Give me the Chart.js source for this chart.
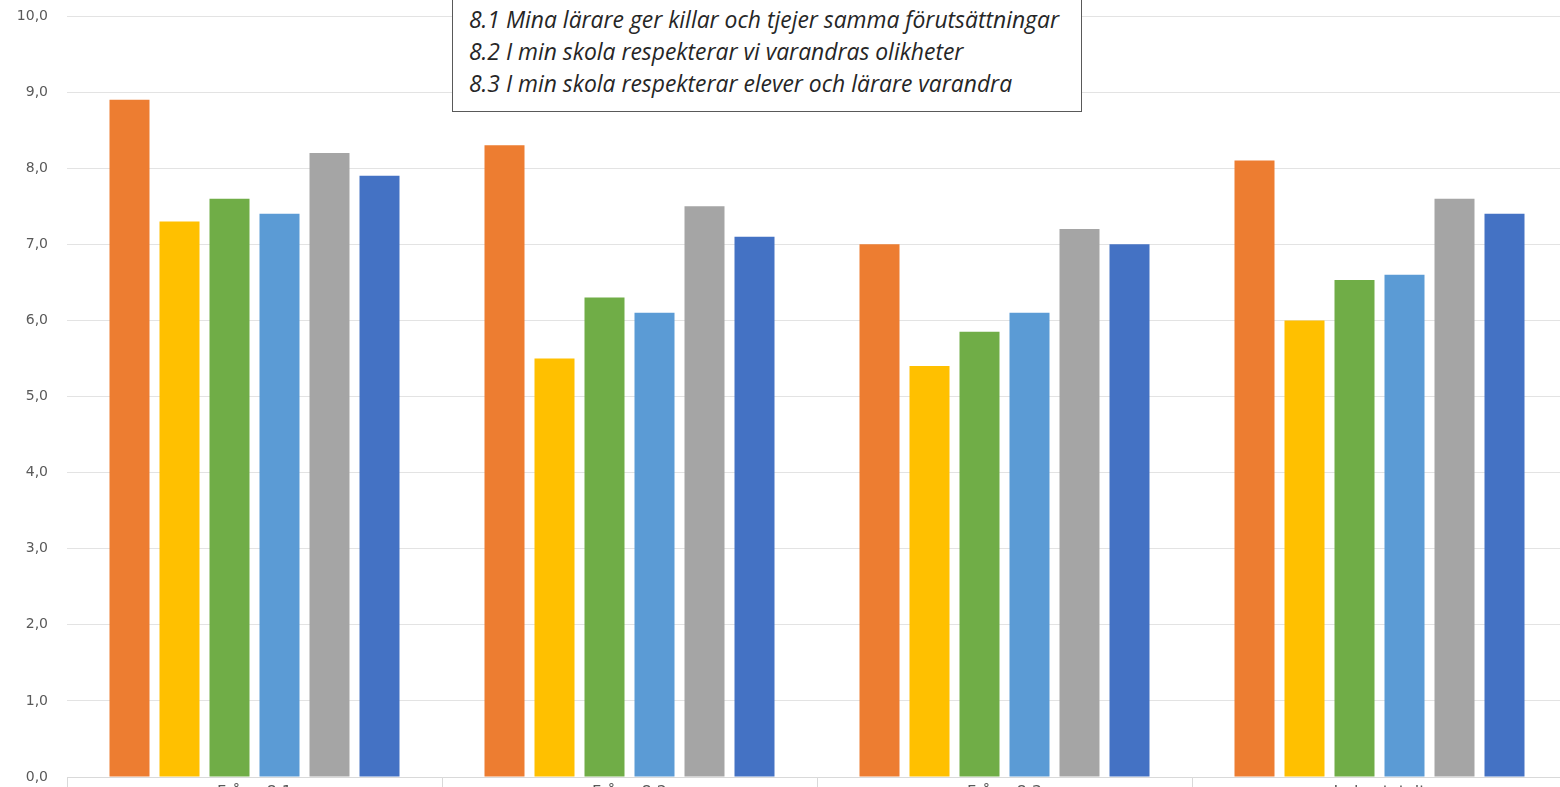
<!DOCTYPE html>
<html>
<head>
<meta charset="utf-8">
<script src="https://cdn.jsdelivr.net/npm/chart.js@4.4.1/dist/chart.umd.min.js"></script>
<style>
  html, body { margin: 0; padding: 0; background: #fff; overflow: hidden; width: 1560px; height: 787px; }
  #wrap { position: relative; width: 1570px; height: 817px; }
  #c { position: absolute; left: 0; top: 0; }
  #note {
    position: absolute; left: 452px; top: -2px; width: 628px; height: 112px;
    border: 1px solid #595959; background: #fff; box-sizing: content-box;
    font-family: "Open Sans", Lato, sans-serif; font-style: italic; font-size: 18px;
    color: #262626; line-height: 32px; padding: 0;
  }
  #note div { padding-left: 16px; white-space: nowrap; }
  #note div:first-child { margin-top: 5px; }
  #note span { display: inline-block; }
</style>
</head>
<body>
<div id="wrap">
  <canvas id="c" width="1570" height="817"></canvas>
  <div id="note">
    <div><span>8.1 Mina lärare ger killar och tjejer samma förutsättningar</span></div>
    <div><span>8.2 I min skola respekterar vi varandras olikheter</span></div>
    <div><span>8.3 I min skola respekterar elever och lärare varandra</span></div>
  </div>
</div>
<script>
const categories = ["Fråga 8.1", "Fråga 8.2", "Fråga 8.3", "Index totalt"];
const seriesNames = ["Serie 1", "Serie 2", "Serie 3", "Serie 4", "Serie 5", "Serie 6"];
const seriesColors = ["#ED7D31", "#FFC000", "#70AD47", "#5B9BD5", "#A5A5A5", "#4472C4"];
const serie1 = [8.9, 8.3, 7.0, 8.1];
const serie2 = [7.3, 5.5, 5.4, 6.0];
const serie3 = [7.6, 6.3, 5.85, 6.53];
const serie4 = [7.4, 6.1, 6.1, 6.6];
const serie5 = [8.2, 7.5, 7.2, 7.6];
const serie6 = [7.9, 7.1, 7.0, 7.4];
const allSeries = [serie1, serie2, serie3, serie4, serie5, serie6];

// fit note text so the first line spans ~590px like the reference
const note = document.getElementById('note');
const first = note.querySelector('span');
const w = first.getBoundingClientRect().width;
if (w > 0) {
  const fs = 18 * 590 / w;
  note.style.fontSize = fs.toFixed(2) + 'px';
}

const ctx = document.getElementById('c');
new Chart(ctx, {
  type: 'bar',
  data: {
    labels: categories,
    datasets: allSeries.map((d, i) => ({
      label: seriesNames[i],
      data: d,
      backgroundColor: seriesColors[i],
      borderWidth: 0,
      categoryPercentage: 0.8,
      barPercentage: 0.8
    }))
  },
  options: {
    responsive: false,
    animation: false,
    devicePixelRatio: 1,
    layout: { padding: { top: 16, right: 3, left: 0, bottom: 0 } },
    plugins: { legend: { display: false }, tooltip: { enabled: false } },
    scales: {
      x: {
        grid: { offset: true, drawOnChartArea: false, drawTicks: true, tickLength: 15, color: '#d9d9d9' },
        border: { color: '#d9d9d9', width: 1 },
        ticks: { padding: -9, color: '#595959', font: { family: 'DejaVu Sans', size: 16 } },
        afterFit: s => { s.height = 40; }
      },
      y: {
        min: 0, max: 10,
        ticks: {
          stepSize: 1, padding: 19, color: '#595959',
          font: { family: 'DejaVu Sans', size: 14 },
          callback: v => v.toFixed(1).replace('.', ',')
        },
        grid: { color: '#e3e3e3', drawTicks: false },
        border: { display: false },
        afterFit: s => { s.width = 67; s.paddingTop = 0; s.paddingBottom = 0; }
      }
    }
  }
});
</script>
</body>
</html>
